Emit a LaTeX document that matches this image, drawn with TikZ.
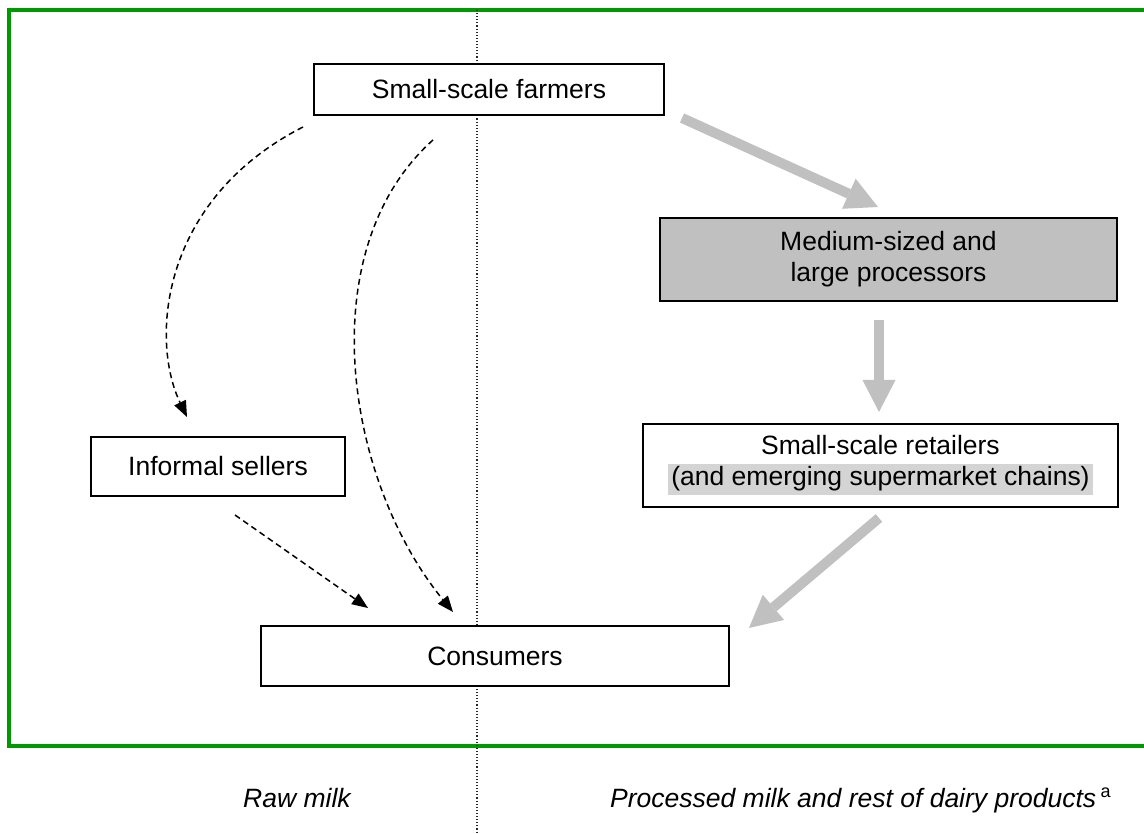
\documentclass[tikz,border=0pt]{standalone}
\usepackage{fontspec}
\setmainfont{Liberation Sans}
\usetikzlibrary{arrows.meta}
\definecolor{framegreen}{HTML}{009900}
\definecolor{flowgray}{HTML}{C0C0C0}
\definecolor{hlgray}{HTML}{D4D4D4}
% shaded line inside a box label
\newcommand\hlline[1]{{\setlength\fboxsep{0pt}\colorbox{hlgray}{\strut\hspace{3pt}#1\hspace{3pt}}}}

\begin{document}
\begin{tikzpicture}[x=1pt,y=-1pt,
  every node/.style={font=\fontsize{26.5}{31}\selectfont},
  actor/.style={draw=black, line width=1.5pt, fill=white, align=center, inner sep=0pt},
  flow/.style={draw=flowgray, line width=10pt, -{Triangle[width=33pt,length=32pt,line width=0pt]}},
  informal/.style={line width=1.5pt, dash pattern=on 6pt off 4pt, -{Triangle[width=13pt,length=16pt,line width=0pt]}},
  divider/.style={draw=black!85, line width=1.1pt, dotted},
  caption/.style={font=\fontsize{26.5}{31}\selectfont\itshape, anchor=base west, inner sep=0pt}]

\useasboundingbox (0,0) rectangle (1144,834);

% frame and divider between the two channels
\draw[framegreen, line width=4pt] (1150,10) -- (9,10) -- (9,746) -- (1150,746);
\draw[divider] (477,10) -- (477,834);

% actors
\node[actor, minimum width=350pt, minimum height=51pt] (farm) at (489,89.5) {Small-scale farmers};
\node[actor, fill=flowgray, minimum width=457pt, minimum height=83pt] (proc) at (888.5,259.5) {Medium-sized and\\large processors};
\node[actor, minimum width=475pt, minimum height=83pt] (retail) at (880.5,465.5) {Small-scale retailers\\\hlline{(and emerging supermarket chains)}};
\node[actor, minimum width=254pt, minimum height=59pt] (informal) at (218,466.5) {Informal sellers};
\node[actor, minimum width=468pt, minimum height=60pt] (cons) at (495,656) {Consumers};

% processed channel
\coordinate (g1s) at (682,118);
\coordinate (g1e) at (878,207);
\coordinate (g2s) at (879,320);
\coordinate (g2e) at (879,412);
\coordinate (g3s) at (879,518);
\coordinate (g3e) at (749,628);
\draw[flow] (g1s) -- (g1e);
\draw[flow] (g2s) -- (g2e);
\draw[flow] (g3s) -- (g3e);

% raw milk channel
\coordinate (d1s) at (303,127);
\coordinate (d1e) at (187,417);
\coordinate (d2s) at (433,140);
\coordinate (d2e) at (453,612);
\coordinate (d3s) at (235,515);
\coordinate (d3e) at (368,608);
\draw[informal] (d1s) .. controls (160,200) and (150,340) .. (d1e);
\draw[informal] (d2s) .. controls (310,250) and (345,480) .. (d2e);
\draw[informal] (d3s) -- (d3e);

% channel captions
\node[caption] (rawcap) at (243,807) {Raw milk};
\node[caption] (proccap) at (610,807) {Processed milk and rest of dairy products\,\raisebox{10pt}{\fontsize{18}{18}\selectfont\upshape a}};
\end{tikzpicture}
\end{document}
